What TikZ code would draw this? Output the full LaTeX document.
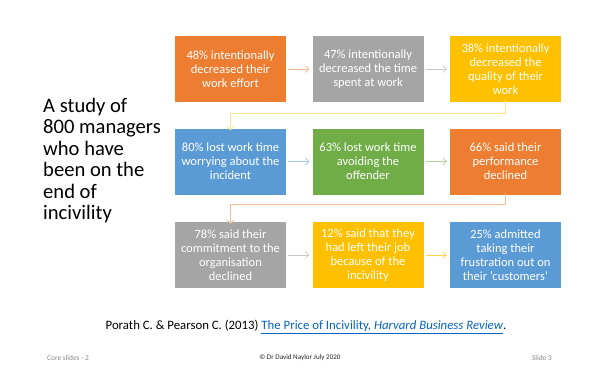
\documentclass[tikz,border=0pt]{standalone}
\usepackage{fontspec}
\setmainfont{Carlito}
\usetikzlibrary{arrows.meta}
\definecolor{corange}{HTML}{ED7D31}
\definecolor{cgray}{HTML}{A5A5A5}
\definecolor{cyellow}{HTML}{FFC000}
\definecolor{cblue}{HTML}{5B9BD5}
\definecolor{cgreen}{HTML}{70AD47}
\definecolor{clink}{HTML}{0563C1}
\definecolor{cfoot}{HTML}{898989}
\begin{document}
\begin{tikzpicture}[x=1pt,y=-1pt,
  box/.style={minimum width=111pt,minimum height=66pt,inner sep=0pt,text=white,
    align=center,font=\fontsize{12.5}{14}\selectfont},
  conn/.style={line width=0.7pt,-{Straight Barb[length=3.5pt,width=7pt]}}]
\useasboundingbox (0,0) rectangle (600,375);
\fill[white] (0,0) rectangle (600,375);
% row 1
\node[box,fill=corange] (b1) at (230.5,69) {48\% intentionally\\decreased their\\work effort};
\node[box,fill=cgray] (b2) at (368,69) {47\% intentionally\\decreased the time\\spent at work};
\node[box,fill=cyellow] (b3) at (505.5,69) {38\% intentionally\\decreased the\\quality of their\\work};
% row 2
\node[box,fill=cblue] (b4) at (230.5,161.5) {80\% lost work time\\worrying about the\\incident};
\node[box,fill=cgreen] (b5) at (368,161.5) {63\% lost work time\\avoiding the\\offender};
\node[box,fill=corange] (b6) at (505.5,161.5) {66\% said their\\performance\\declined};
% row 3
\node[box,fill=cgray] (b7) at (230.5,255) {78\% said their\\commitment to the\\organisation\\declined};
\node[box,fill=cyellow] (b8) at (368,255) {12\% said that they\\had left their job\\because of the\\incivility};
\node[box,fill=cblue] (b9) at (505.5,255) {25\% admitted\\taking their\\frustration out on\\their ‘customers’};
% connectors
\draw[conn,corange!55] ([xshift=2pt]b1.east) -- ([xshift=-3pt]b2.west);
\draw[conn,cgray!60] ([xshift=2pt]b2.east) -- ([xshift=-3pt]b3.west);
\draw[conn,cblue!55] ([xshift=2pt]b4.east) -- ([xshift=-3pt]b5.west);
\draw[conn,cgreen!55] ([xshift=2pt]b5.east) -- ([xshift=-3pt]b6.west);
\draw[conn,cgray!60] ([xshift=2pt]b7.east) -- ([xshift=-3pt]b8.west);
\draw[conn,cyellow!70] ([xshift=2pt]b8.east) -- ([xshift=-3pt]b9.west);
\draw[conn,cyellow!45] ([yshift=2pt]b3.south) -- ++(0,13) -| ([yshift=-2pt]b4.north);
\draw[conn,corange!50] ([yshift=2pt]b6.south) -- ++(0,12) -| ([yshift=-2pt]b7.north);
% left text
\node[anchor=north west,inner sep=0pt,align=left,font=\fontsize{20.6}{21.4}\selectfont] (lt) at (43,98)
  {A study of\\800 managers\\who have\\been on the\\end of\\incivility};
% citation
\node[inner sep=0pt,font=\fontsize{12.8}{14}\selectfont] (cite) at (306,327)
  {Porath C. \& Pearson C. (2013) \textcolor{clink}{\underline{The Price of Incivility, \textit{Harvard Business Review}}}.};
% footer
\node[inner sep=0pt,text=cfoot,font=\fontsize{7.4}{8}\selectfont,anchor=west] (f1) at (47,358) {Core slides - 2};
\node[inner sep=0pt,text=black!85,font=\fontsize{7.1}{8}\selectfont] (f2) at (300,358) {© Dr David Naylor July 2020};
\node[inner sep=0pt,text=cfoot,font=\fontsize{7.4}{8}\selectfont,anchor=east] (f3) at (552,358) {Slide 3};
\end{tikzpicture}
\end{document}
